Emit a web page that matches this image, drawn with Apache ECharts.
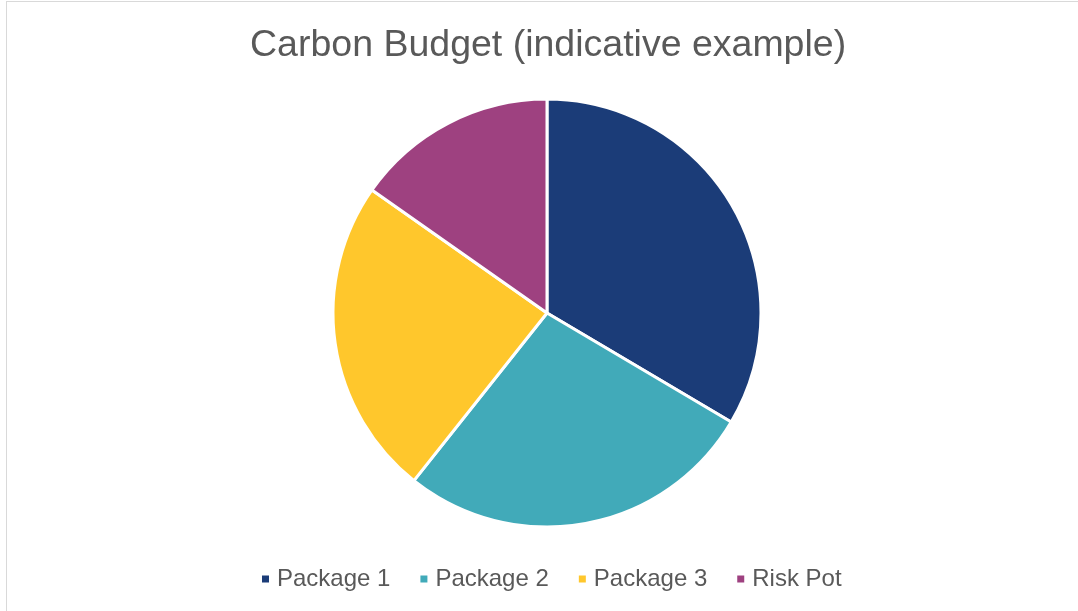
<!DOCTYPE html>
<html>
<head>
<meta charset="utf-8">
<script src="https://cdn.jsdelivr.net/npm/echarts@6/dist/echarts.min.js"></script>
<style>
  html, body { margin: 0; padding: 0; background: #fff; }
  #frame { position: absolute; left: 6px; top: 1px; width: 1090px; height: 630px; border: 1px solid #d9d9d9; box-sizing: border-box; }
  #chart { position: absolute; left: 0; top: 0; width: 1078px; height: 611px; }
</style>
</head>
<body>
<div id="frame"></div>
<div id="chart"></div>
<script>
var categories = ['Package 1', 'Package 2', 'Package 3', 'Risk Pot'];
var values = [33.4, 27.1, 24.0, 15.2];
var colors = ['#1b3c78', '#41aab9', '#ffc72c', '#9e4180'];

var chart = echarts.init(document.getElementById('chart'), null, { renderer: 'canvas' });

var data = categories.map(function (name, i) {
	return { name: name, value: values[i], itemStyle: { color: colors[i] } };
});

var options = {
	animation: false,
	title: {
		text: 'Carbon Budget (indicative example)',
		left: 250,
		top: 27,
		padding: 0,
		textStyle: { fontFamily: 'Liberation Sans', fontSize: 37.5, fontWeight: 'normal', color: '#595959' }
	},
	legend: {
		data: categories,
		bottom: 15,
		left: 255,
		icon: 'rect',
		itemWidth: 9,
		itemHeight: 9,
		itemGap: 28,
		textStyle: { fontFamily: 'Liberation Sans', fontSize: 24, color: '#595959', padding: [0, 0, 0, 2] }
	},
	series: [{
		type: 'pie',
		center: [547, 313],
		radius: 214,
		startAngle: 90,
		clockwise: true,
		label: { show: false },
		labelLine: { show: false },
		emphasis: { disabled: true },
		itemStyle: { borderColor: '#fff', borderWidth: 3 },
		data: data
	}]
};

chart.setOption(options);
</script>
</body>
</html>
